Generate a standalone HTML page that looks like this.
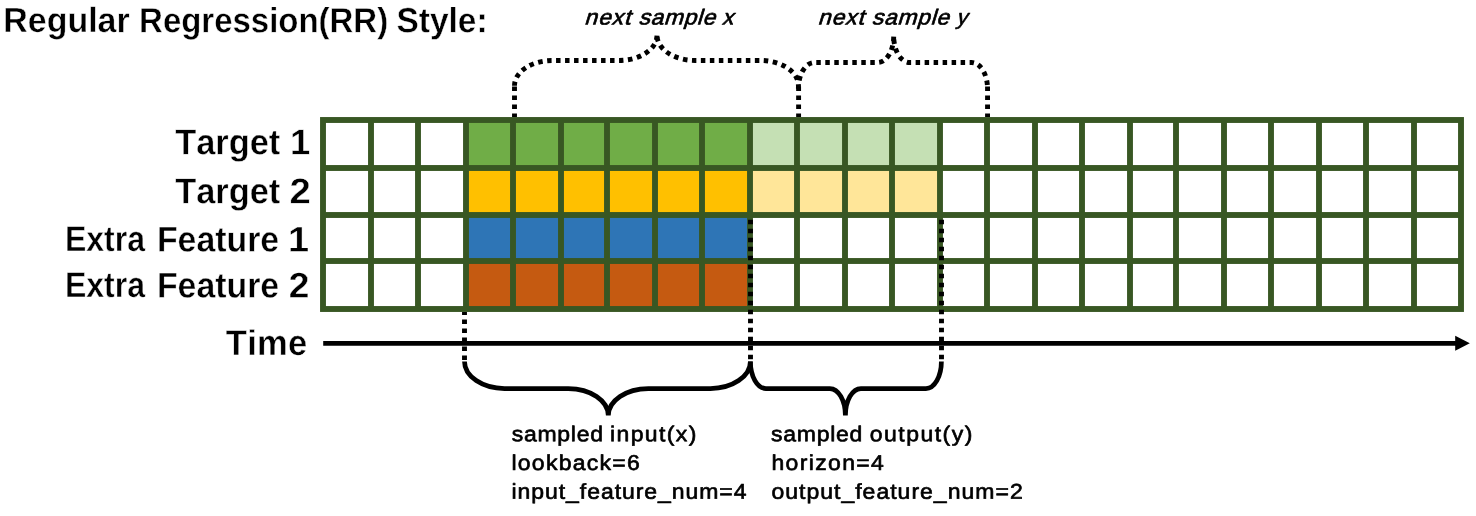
<!DOCTYPE html>
<html lang="en"><head><meta charset="utf-8"><title>Regular Regression(RR) Style</title>
<style>
html,body{margin:0;padding:0;background:#fff;}
body{width:1476px;height:516px;overflow:hidden;}
svg{display:block;will-change:transform;}
text{font-family:"Liberation Sans", "DejaVu Sans", sans-serif;fill:#000;stroke:#000;stroke-linejoin:round;font-kerning:none;}
.tt{font-size:35.00px;stroke-width:0.40px;font-weight:bold;stroke:#fff;}
.lb{font-size:35.60px;stroke-width:0.40px;font-weight:bold;stroke:#fff;}
.it{font-size:21.60px;stroke-width:0.65px;}
.nt{font-size:21.50px;stroke-width:0.65px;}
.d{fill:none;stroke:#000;stroke-width:4.90px;stroke-dasharray:4.50 4.50;}
.s{fill:none;stroke:#000;stroke-width:4.75px;stroke-linejoin:bevel;}
</style></head><body>
<svg width="1476" height="516" viewBox="0 0 1476 516" role="img" aria-label="Regular Regression (RR) style sampling diagram">
<rect x="0" y="0" width="1476" height="516" fill="#ffffff"/>
<g id="grid">
<rect x="320.05" y="117.05" width="1143.90" height="194.90" fill="#385723"/>
<rect x="325.95" y="122.95" width="42.10" height="42.10" fill="#ffffff"/>
<rect x="373.95" y="122.95" width="41.10" height="42.10" fill="#ffffff"/>
<rect x="420.95" y="122.95" width="42.10" height="42.10" fill="#ffffff"/>
<rect x="468.95" y="122.95" width="41.10" height="42.10" fill="#70AD47"/>
<rect x="515.95" y="122.95" width="42.10" height="42.10" fill="#70AD47"/>
<rect x="563.95" y="122.95" width="40.10" height="42.10" fill="#70AD47"/>
<rect x="609.95" y="122.95" width="42.10" height="42.10" fill="#70AD47"/>
<rect x="657.95" y="122.95" width="41.10" height="42.10" fill="#70AD47"/>
<rect x="704.95" y="122.95" width="42.10" height="42.10" fill="#70AD47"/>
<rect x="752.95" y="122.95" width="41.10" height="42.10" fill="#C5E0B4"/>
<rect x="799.95" y="122.95" width="42.10" height="42.10" fill="#C5E0B4"/>
<rect x="847.95" y="122.95" width="41.10" height="42.10" fill="#C5E0B4"/>
<rect x="894.95" y="122.95" width="42.10" height="42.10" fill="#C5E0B4"/>
<rect x="942.95" y="122.95" width="41.10" height="42.10" fill="#ffffff"/>
<rect x="989.95" y="122.95" width="42.10" height="42.10" fill="#ffffff"/>
<rect x="1037.95" y="122.95" width="41.10" height="42.10" fill="#ffffff"/>
<rect x="1084.95" y="122.95" width="42.10" height="42.10" fill="#ffffff"/>
<rect x="1132.95" y="122.95" width="40.10" height="42.10" fill="#ffffff"/>
<rect x="1178.95" y="122.95" width="42.10" height="42.10" fill="#ffffff"/>
<rect x="1226.95" y="122.95" width="41.10" height="42.10" fill="#ffffff"/>
<rect x="1273.95" y="122.95" width="42.10" height="42.10" fill="#ffffff"/>
<rect x="1321.95" y="122.95" width="41.10" height="42.10" fill="#ffffff"/>
<rect x="1368.95" y="122.95" width="42.10" height="42.10" fill="#ffffff"/>
<rect x="1416.95" y="122.95" width="41.10" height="42.10" fill="#ffffff"/>
<rect x="325.95" y="170.95" width="42.10" height="41.10" fill="#ffffff"/>
<rect x="373.95" y="170.95" width="41.10" height="41.10" fill="#ffffff"/>
<rect x="420.95" y="170.95" width="42.10" height="41.10" fill="#ffffff"/>
<rect x="468.95" y="170.95" width="41.10" height="41.10" fill="#FFC000"/>
<rect x="515.95" y="170.95" width="42.10" height="41.10" fill="#FFC000"/>
<rect x="563.95" y="170.95" width="40.10" height="41.10" fill="#FFC000"/>
<rect x="609.95" y="170.95" width="42.10" height="41.10" fill="#FFC000"/>
<rect x="657.95" y="170.95" width="41.10" height="41.10" fill="#FFC000"/>
<rect x="704.95" y="170.95" width="42.10" height="41.10" fill="#FFC000"/>
<rect x="752.95" y="170.95" width="41.10" height="41.10" fill="#FFE699"/>
<rect x="799.95" y="170.95" width="42.10" height="41.10" fill="#FFE699"/>
<rect x="847.95" y="170.95" width="41.10" height="41.10" fill="#FFE699"/>
<rect x="894.95" y="170.95" width="42.10" height="41.10" fill="#FFE699"/>
<rect x="942.95" y="170.95" width="41.10" height="41.10" fill="#ffffff"/>
<rect x="989.95" y="170.95" width="42.10" height="41.10" fill="#ffffff"/>
<rect x="1037.95" y="170.95" width="41.10" height="41.10" fill="#ffffff"/>
<rect x="1084.95" y="170.95" width="42.10" height="41.10" fill="#ffffff"/>
<rect x="1132.95" y="170.95" width="40.10" height="41.10" fill="#ffffff"/>
<rect x="1178.95" y="170.95" width="42.10" height="41.10" fill="#ffffff"/>
<rect x="1226.95" y="170.95" width="41.10" height="41.10" fill="#ffffff"/>
<rect x="1273.95" y="170.95" width="42.10" height="41.10" fill="#ffffff"/>
<rect x="1321.95" y="170.95" width="41.10" height="41.10" fill="#ffffff"/>
<rect x="1368.95" y="170.95" width="42.10" height="41.10" fill="#ffffff"/>
<rect x="1416.95" y="170.95" width="41.10" height="41.10" fill="#ffffff"/>
<rect x="325.95" y="217.95" width="42.10" height="40.10" fill="#ffffff"/>
<rect x="373.95" y="217.95" width="41.10" height="40.10" fill="#ffffff"/>
<rect x="420.95" y="217.95" width="42.10" height="40.10" fill="#ffffff"/>
<rect x="468.95" y="217.95" width="41.10" height="40.10" fill="#2E75B6"/>
<rect x="515.95" y="217.95" width="42.10" height="40.10" fill="#2E75B6"/>
<rect x="563.95" y="217.95" width="40.10" height="40.10" fill="#2E75B6"/>
<rect x="609.95" y="217.95" width="42.10" height="40.10" fill="#2E75B6"/>
<rect x="657.95" y="217.95" width="41.10" height="40.10" fill="#2E75B6"/>
<rect x="704.95" y="217.95" width="42.10" height="40.10" fill="#2E75B6"/>
<rect x="752.95" y="217.95" width="41.10" height="40.10" fill="#ffffff"/>
<rect x="799.95" y="217.95" width="42.10" height="40.10" fill="#ffffff"/>
<rect x="847.95" y="217.95" width="41.10" height="40.10" fill="#ffffff"/>
<rect x="894.95" y="217.95" width="42.10" height="40.10" fill="#ffffff"/>
<rect x="942.95" y="217.95" width="41.10" height="40.10" fill="#ffffff"/>
<rect x="989.95" y="217.95" width="42.10" height="40.10" fill="#ffffff"/>
<rect x="1037.95" y="217.95" width="41.10" height="40.10" fill="#ffffff"/>
<rect x="1084.95" y="217.95" width="42.10" height="40.10" fill="#ffffff"/>
<rect x="1132.95" y="217.95" width="40.10" height="40.10" fill="#ffffff"/>
<rect x="1178.95" y="217.95" width="42.10" height="40.10" fill="#ffffff"/>
<rect x="1226.95" y="217.95" width="41.10" height="40.10" fill="#ffffff"/>
<rect x="1273.95" y="217.95" width="42.10" height="40.10" fill="#ffffff"/>
<rect x="1321.95" y="217.95" width="41.10" height="40.10" fill="#ffffff"/>
<rect x="1368.95" y="217.95" width="42.10" height="40.10" fill="#ffffff"/>
<rect x="1416.95" y="217.95" width="41.10" height="40.10" fill="#ffffff"/>
<rect x="325.95" y="263.95" width="42.10" height="42.10" fill="#ffffff"/>
<rect x="373.95" y="263.95" width="41.10" height="42.10" fill="#ffffff"/>
<rect x="420.95" y="263.95" width="42.10" height="42.10" fill="#ffffff"/>
<rect x="468.95" y="263.95" width="41.10" height="42.10" fill="#C55A11"/>
<rect x="515.95" y="263.95" width="42.10" height="42.10" fill="#C55A11"/>
<rect x="563.95" y="263.95" width="40.10" height="42.10" fill="#C55A11"/>
<rect x="609.95" y="263.95" width="42.10" height="42.10" fill="#C55A11"/>
<rect x="657.95" y="263.95" width="41.10" height="42.10" fill="#C55A11"/>
<rect x="704.95" y="263.95" width="42.10" height="42.10" fill="#C55A11"/>
<rect x="752.95" y="263.95" width="41.10" height="42.10" fill="#ffffff"/>
<rect x="799.95" y="263.95" width="42.10" height="42.10" fill="#ffffff"/>
<rect x="847.95" y="263.95" width="41.10" height="42.10" fill="#ffffff"/>
<rect x="894.95" y="263.95" width="42.10" height="42.10" fill="#ffffff"/>
<rect x="942.95" y="263.95" width="41.10" height="42.10" fill="#ffffff"/>
<rect x="989.95" y="263.95" width="42.10" height="42.10" fill="#ffffff"/>
<rect x="1037.95" y="263.95" width="41.10" height="42.10" fill="#ffffff"/>
<rect x="1084.95" y="263.95" width="42.10" height="42.10" fill="#ffffff"/>
<rect x="1132.95" y="263.95" width="40.10" height="42.10" fill="#ffffff"/>
<rect x="1178.95" y="263.95" width="42.10" height="42.10" fill="#ffffff"/>
<rect x="1226.95" y="263.95" width="41.10" height="42.10" fill="#ffffff"/>
<rect x="1273.95" y="263.95" width="42.10" height="42.10" fill="#ffffff"/>
<rect x="1321.95" y="263.95" width="41.10" height="42.10" fill="#ffffff"/>
<rect x="1368.95" y="263.95" width="42.10" height="42.10" fill="#ffffff"/>
<rect x="1416.95" y="263.95" width="41.10" height="42.10" fill="#ffffff"/>
</g>
<line x1="323.2" y1="343.35" x2="1456" y2="343.35" stroke="#000" stroke-width="4.7"/>
<polygon points="1455.2,335.8 1469.8,343.3 1455.2,350.8" fill="#000"/>
<g id="next-sample-braces">
<path class="d" d="M657.00 35.20 A38.00 25.25 0 0 1 619.00 60.45 L552.50 60.45 A38.00 25.25 0 0 0 514.50 85.70" stroke-dashoffset="8.52"/>
<path class="d" d="M657.00 35.20 A38.00 25.25 0 0 0 695.00 60.45 L760.40 60.45 A38.00 25.25 0 0 1 798.40 85.70" stroke-dashoffset="7.12"/>
<path class="d" d="M893.70 36.30 A16.00 26.20 0 0 1 877.70 62.50 L814.40 62.50 A16.00 26.20 0 0 0 798.40 88.70" stroke-dashoffset="8.67"/>
<path class="d" d="M893.70 36.30 A16.00 26.20 0 0 0 909.70 62.50 L971.55 62.50 A16.00 26.20 0 0 1 987.55 88.70" stroke-dashoffset="5.67"/>
<line class="d" x1="514.50" y1="86.5" x2="514.50" y2="117.1"/>
<line class="d" x1="798.60" y1="86.5" x2="798.60" y2="117.1"/>
<line class="d" x1="987.55" y1="86.5" x2="987.55" y2="117.1"/>
</g>
<g id="sampled-braces">
<line class="d" x1="464.5" y1="311.9" x2="464.5" y2="361.5" stroke-dashoffset="1.4"/>
<line class="d" x1="750.5" y1="219.8" x2="750.5" y2="361.5"/>
<line class="d" x1="941.5" y1="219.8" x2="941.5" y2="361.5"/>
<path class="s" d="M464.50 361.50 A40.00 27.00 0 0 0 504.50 388.50 L568.30 388.50 A40.00 27.00 0 0 1 608.30 415.50 A40.00 27.00 0 0 1 648.30 388.50 L710.40 388.50 A40.00 27.00 0 0 0 750.40 361.50"/>
<path class="s" d="M750.40 361.50 A15.50 27.00 0 0 0 765.90 388.50 L829.90 388.50 A15.50 27.00 0 0 1 845.40 415.50 A15.50 27.00 0 0 1 860.90 388.50 L925.90 388.50 A15.50 27.00 0 0 0 941.40 361.50"/>
</g>
<g id="labels">
<text class="tt" y="32.20" transform="rotate(0.03 245.0 32.2) scale(0.970 1)"><tspan x="3.35" textLength="130.32" lengthAdjust="spacing">Regular</tspan> <tspan x="143.43" textLength="256.69" lengthAdjust="spacingAndGlyphs">Regression(RR)</tspan> <tspan x="408.75" textLength="93.92" lengthAdjust="spacingAndGlyphs">Style:</tspan></text>
<text class="lb" y="154.30" transform="rotate(0.03 242.4 154.3) scale(0.970 1)"><tspan x="180.55" textLength="108.38" lengthAdjust="spacingAndGlyphs">Target</tspan> <tspan x="299.07" textLength="20.90" lengthAdjust="spacingAndGlyphs">1</tspan></text>
<text class="lb" y="203.30" transform="rotate(0.03 242.4 203.3) scale(0.970 1)"><tspan x="180.55" textLength="108.38" lengthAdjust="spacingAndGlyphs">Target</tspan> <tspan x="298.57" textLength="21.95" lengthAdjust="spacingAndGlyphs">2</tspan></text>
<text class="lb" y="251.40" transform="rotate(0.03 187.6 251.4) scale(0.970 1)"><tspan x="67.03" textLength="82.45" lengthAdjust="spacingAndGlyphs">Extra</tspan> <tspan x="161.80" textLength="126.01" lengthAdjust="spacingAndGlyphs">Feature</tspan> <tspan x="297.03" textLength="21.72" lengthAdjust="spacingAndGlyphs">1</tspan></text>
<text class="lb" y="297.40" transform="rotate(0.03 187.6 297.4) scale(0.970 1)"><tspan x="67.03" textLength="82.45" lengthAdjust="spacingAndGlyphs">Extra</tspan> <tspan x="161.80" textLength="126.01" lengthAdjust="spacingAndGlyphs">Feature</tspan> <tspan x="297.75" textLength="21.30" lengthAdjust="spacingAndGlyphs">2</tspan></text>
<text class="lb" y="355.10" transform="rotate(0.03 266.1 355.1) scale(0.970 1)"><tspan x="232.77" textLength="83.93" lengthAdjust="spacing">Time</tspan></text>
<text class="it" y="24.60" transform="rotate(0.03 660.9 24.6) translate(0 24.60) skewX(-17.0) translate(0 -24.60) scale(1.060 1)"><tspan x="551.05" textLength="43.36" lengthAdjust="spacing">next</tspan> <tspan x="602.16" textLength="72.35" lengthAdjust="spacing">sample</tspan> <tspan x="681.02" textLength="10.58" lengthAdjust="spacingAndGlyphs">x</tspan></text>
<text class="it" y="24.60" transform="rotate(0.03 894.5 24.6) translate(0 24.60) skewX(-17.0) translate(0 -24.60) scale(1.060 1)"><tspan x="771.18" textLength="43.53" lengthAdjust="spacing">next</tspan> <tspan x="822.20" textLength="72.76" lengthAdjust="spacing">sample</tspan> <tspan x="901.81" textLength="10.03" lengthAdjust="spacingAndGlyphs">y</tspan></text>
<text class="nt" y="441.30" transform="rotate(0.03 603.6 441.3) scale(1.070 1)"><tspan x="478.24" textLength="85.35" lengthAdjust="spacing">sampled</tspan> <tspan x="570.08" textLength="80.78" lengthAdjust="spacing">input(x)</tspan></text>
<text class="nt" y="470.00" transform="rotate(0.03 575.9 470.0) scale(1.070 1)"><tspan x="477.98" textLength="119.94" lengthAdjust="spacing">lookback=6</tspan></text>
<text class="nt" y="498.80" transform="rotate(0.03 629.4 498.8) scale(1.070 1)"><tspan x="478.06" textLength="219.63" lengthAdjust="spacing">input_feature_num=4</tspan></text>
<text class="nt" y="441.30" transform="rotate(0.03 871.4 441.3) scale(1.070 1)"><tspan x="720.63" textLength="85.24" lengthAdjust="spacing">sampled</tspan> <tspan x="812.78" textLength="96.04" lengthAdjust="spacing">output(y)</tspan></text>
<text class="nt" y="470.00" transform="rotate(0.03 828.1 470.0) scale(1.070 1)"><tspan x="720.99" textLength="105.10" lengthAdjust="spacing">horizon=4</tspan></text>
<text class="nt" y="498.80" transform="rotate(0.03 897.0 498.8) scale(1.070 1)"><tspan x="720.93" textLength="234.85" lengthAdjust="spacing">output_feature_num=2</tspan></text>
</g>
</svg>
</body></html>
